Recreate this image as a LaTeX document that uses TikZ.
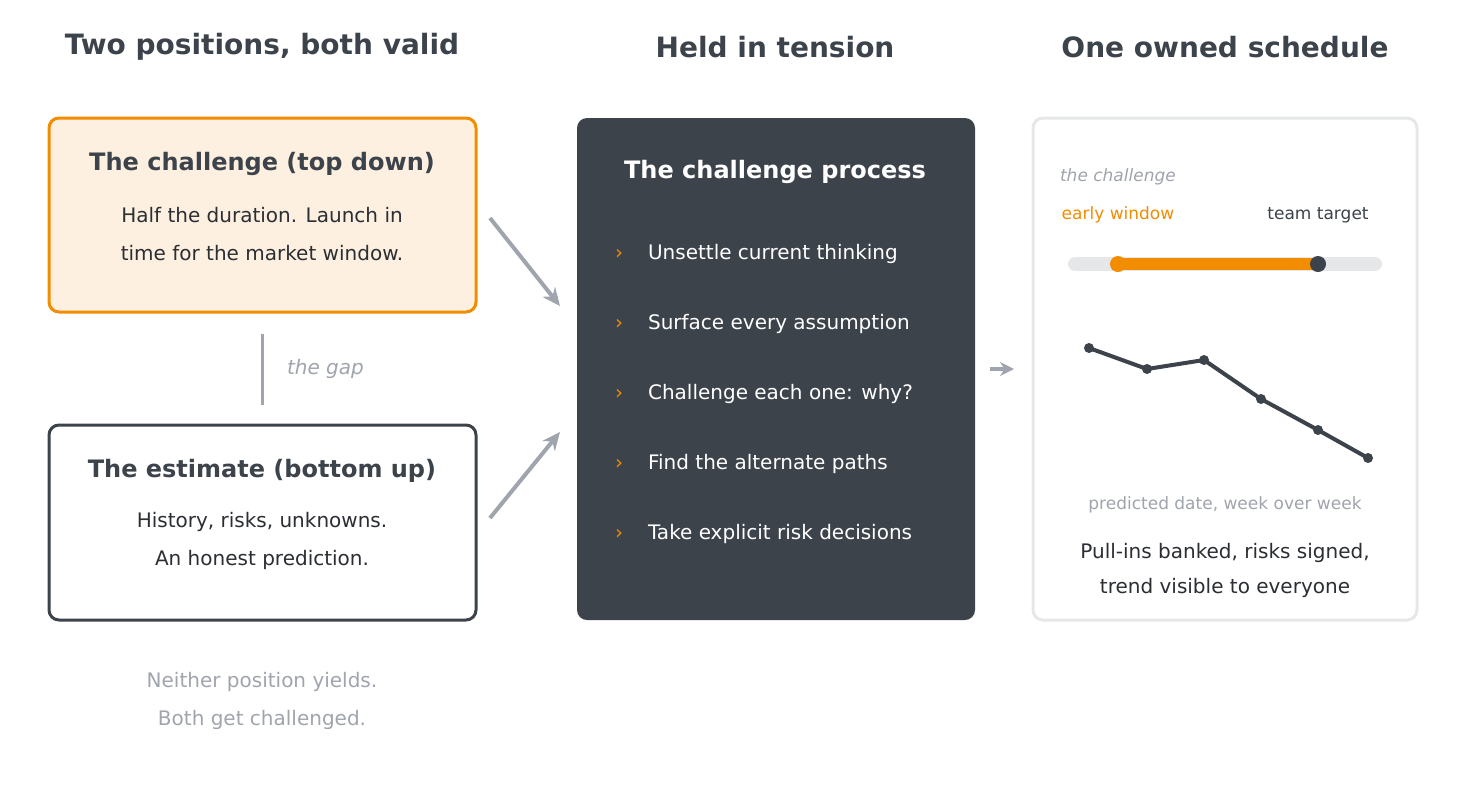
\documentclass[tikz,border=0pt]{standalone}
\usepackage{fontspec}
\setmainfont{DejaVu Sans}
\usetikzlibrary{arrows.meta}
\definecolor{ink}{HTML}{3D434B}
\definecolor{txt}{HTML}{2B2E33}
\definecolor{muted}{HTML}{A0A4AD}
\definecolor{amber}{HTML}{F28C00}
\definecolor{cream}{HTML}{FDF0E0}
\definecolor{rim}{HTML}{E6E7E9}
\tikzset{
    heading/.style={font=\fontsize{14}{16}\selectfont\bfseries, text=ink},
    boxtitle/.style={font=\fontsize{12}{14}\selectfont\bfseries, text=ink},
    body/.style={font=\fontsize{10}{12}\selectfont, text=txt},
    note/.style={font=\fontsize{8.5}{10}\selectfont, text=muted},
    flow/.style={-{Stealth[length=9pt,width=8pt]}, draw=muted, line width=2pt},
}
\begin{document}
\begin{tikzpicture}[x=0.5pt, y=-0.5pt]
        \useasboundingbox (0,0) rectangle (1465,794);
        % column headings
        \node[heading] (h1) at (262,47) {Two positions, both valid};
        \node[heading] (h2) at (775,47) {Held in tension};
        \node[heading] (h3) at (1225,47) {One owned schedule};
        % top down box
        \draw[amber, fill=cream, line width=1.5pt, rounded corners=5pt] (49,118) rectangle (476,312);
        \node[boxtitle] (td) at (262,164) {The challenge (top down)};
        \node[body] at (262,215) {Half the duration. Launch in};
        \node[body] at (262,253) {time for the market window.};
        % the gap
        \coordinate (g1) at (262,334);
        \coordinate (g2) at (262,405);
        \draw[muted, line width=1.5pt] (g1) -- (g2);
        \node[note, font=\fontsize{10}{12}\selectfont\itshape, anchor=west] (gap) at (280,369) {the gap};
        % bottom up box
        \draw[ink, fill=white, line width=1.5pt, rounded corners=5pt] (49,425) rectangle (476,620);
        \node[boxtitle] (bu) at (262,471) {The estimate (bottom up)};
        \node[body] at (262,522) {History, risks, unknowns.};
        \node[body] at (262,560) {An honest prediction.};
        \node[note, font=\fontsize{10}{12}\selectfont] at (262,682) {Neither position yields.};
        \node[note, font=\fontsize{10}{12}\selectfont] at (262,720) {Both get challenged.};
        % arrows into the process
        \coordinate (a1) at (490,218); \coordinate (b1) at (560,306);
        \coordinate (a2) at (490,518); \coordinate (b2) at (560,432);
        \draw[flow] (a1) -- (b1);
        \draw[flow] (a2) -- (b2);
        % process box
        \fill[ink, rounded corners=5pt] (577,118) rectangle (975,620);
        \node[boxtitle, text=white] (proc) at (775,172) {The challenge process};
        \foreach \t [count=\i] in {Unsettle current thinking, Surface every assumption,
            Challenge each one: why?, Find the alternate paths, Take explicit risk decisions}
        {
            \node[body, text=amber] (c\i) at (619,184+70*\i) {›};
            \node[body, text=white, anchor=west] (s\i) at (641,184+70*\i) {\t};
        }
        \coordinate (a3) at (990,369); \coordinate (b3) at (1014,369);
        \draw[flow, -{Stealth[length=7pt,width=7pt]}] (a3) -- (b3);
        % schedule box
        \draw[rim, fill=white, line width=1.5pt, rounded corners=5pt] (1033,118) rectangle (1417,620);
        \node[note, font=\fontsize{8.5}{10}\selectfont\itshape, anchor=west] at (1053,177) {the challenge};
        \node[note, text=amber] (ew) at (1118,215) {early window};
        \node[note, text=ink] (tt) at (1318,215) {team target};
        \coordinate (r0) at (1075,264); \coordinate (r1) at (1375,264);
        \draw[rim, line width=7pt, line cap=round] (r0) -- (r1);
        \coordinate (e) at (1118,264); \coordinate (t) at (1318,264);
        \draw[amber, line width=6pt] (e) -- (t);
        \fill[amber] (e) circle (8);
        \fill[ink] (t) circle (8);
        % trend line
        \draw[ink, line width=2pt, line join=round] (1089,348) -- (1147,369) -- (1204,360) -- (1261,399) -- (1318,430) -- (1368,458);
        \foreach \p in {(1089,348),(1147,369),(1204,360),(1261,399),(1318,430),(1368,458)}
            \fill[ink] \p circle (5);
        \node[note] at (1225,505) {predicted date, week over week};
        \node[body] at (1225,553) {Pull-ins banked, risks signed,};
        \node[body] at (1225,588) {trend visible to everyone};
\end{tikzpicture}
\end{document}
